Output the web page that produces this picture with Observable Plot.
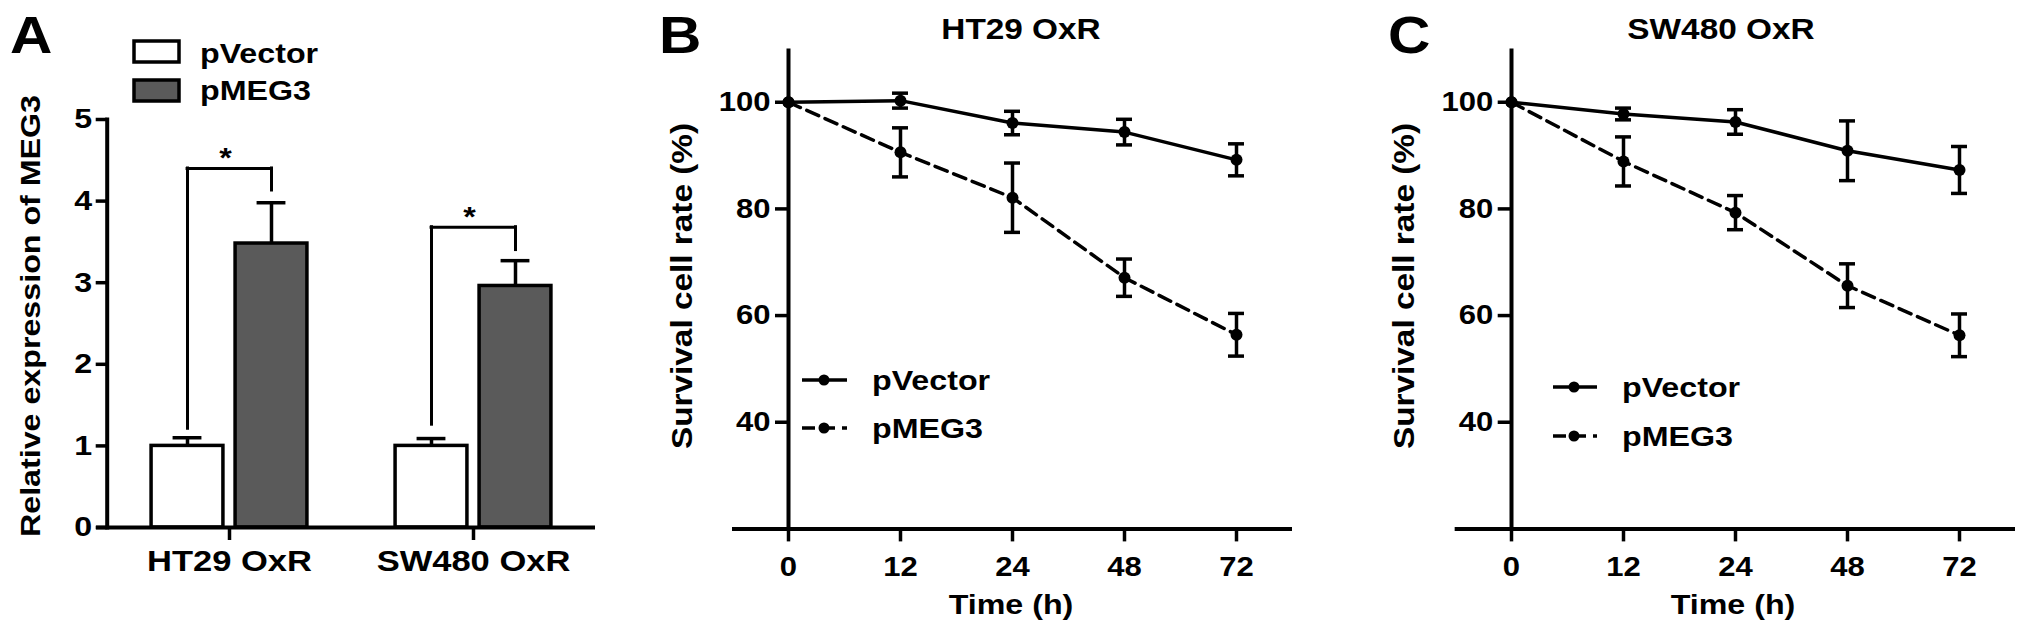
<!DOCTYPE html>
<html><head><meta charset="utf-8">
<script src="https://cdn.jsdelivr.net/npm/d3@7"></script>
<script src="https://cdn.jsdelivr.net/npm/@observablehq/plot@0.6"></script>
<style>
html,body{margin:0;padding:0;background:#fff;}
#fig{position:relative;width:2031px;height:637px;overflow:hidden;}
.panel{position:absolute;top:0;}
.panel svg{max-width:none !important;}
#overlay{position:absolute;left:0;top:0;}
</style></head><body><div id="fig"></div>
<script>
const FONT = "'Liberation Sans', Arial, Helvetica, sans-serif";
const STRETCH = 1.15;

// ---- Panel A data ----
const cellLines = ["HT29 OxR", "SW480 OxR"];
const groups = ["pVector", "pMEG3"];
const groupFill = ["#ffffff", "#5a5a5a"];
const vectorExpr = [1.00, 1.00];
const vectorExprErr = [0.10, 0.09];
const meg3Expr = [3.48, 2.96];
const meg3ExprErr = [0.50, 0.31];
const bracketTop = [4.40, 3.68];
const bracketLeftEnd = [1.21, 1.26];
const bracketRightEnd = [4.13, 3.40];
const bracketMark = ["*", "*"];
const exprTicks = [0, 1, 2, 3, 4, 5];

// ---- Panels B / C data ----
const times = [0, 12, 24, 48, 72];
const ht29Vector = [100, 100.3, 96.1, 94.4, 89.2];
const ht29VectorErr = [0, 1.4, 2.2, 2.4, 3.0];
const ht29Meg3 = [100, 90.6, 82.1, 67.1, 56.4];
const ht29Meg3Err = [0, 4.6, 6.5, 3.5, 4.0];
const sw480Vector = [100, 97.8, 96.3, 90.9, 87.3];
const sw480VectorErr = [0, 1.1, 2.3, 5.6, 4.4];
const sw480Meg3 = [100, 88.9, 79.3, 65.6, 56.3];
const sw480Meg3Err = [0, 4.6, 3.2, 4.1, 4.0];
const survivalTicks = [40, 60, 80, 100];

const baseStyle = {fontFamily: FONT, fontSize: "28px", fontWeight: "bold", color: "#000", background: "transparent", overflow: "visible"};

// ---- Panel A ----
const A = {width: 620, ml: 106.7, mr: 25, mt: 119, mb: 110};
const band = (A.width - A.ml - A.mr) / cellLines.length;
const barW = 72, barGap = 12, off = barGap / 2 + barW / 2;
const barRows = cellLines.flatMap((c, i) => [
  {cell: c, group: groups[0], value: vectorExpr[i], err: vectorExprErr[i]},
  {cell: c, group: groups[1], value: meg3Expr[i], err: meg3ExprErr[i]}
]);
const brackets = cellLines.map((c, i) => ({cell: c, top: bracketTop[i], left: bracketLeftEnd[i], right: bracketRightEnd[i], mark: bracketMark[i]}));
const vRowsA = barRows.filter(d => d.group === groups[0]);
const mRowsA = barRows.filter(d => d.group === groups[1]);
const capHalfA = 14.5;

const plotA = Plot.plot({
  width: A.width, height: 637, marginLeft: A.ml, marginRight: A.mr, marginTop: A.mt, marginBottom: A.mb,
  style: baseStyle,
  x: {type: "band", domain: cellLines, padding: 0, label: null},
  y: {domain: [0, 5], label: null},
  marks: [
    Plot.barY(vRowsA, {x: "cell", y: "value", fill: groupFill[0], stroke: "#000", strokeWidth: 3.5,
      insetLeft: band / 2 - barGap / 2 - barW, insetRight: band / 2 + barGap / 2}),
    Plot.barY(mRowsA, {x: "cell", y: "value", fill: groupFill[1], stroke: "#000", strokeWidth: 3.5,
      insetLeft: band / 2 + barGap / 2, insetRight: band / 2 - barGap / 2 - barW}),
    Plot.ruleX(vRowsA, {x: "cell", y1: "value", y2: d => d.value + d.err, dx: -off, strokeWidth: 3.5}),
    Plot.ruleX(mRowsA, {x: "cell", y1: "value", y2: d => d.value + d.err, dx: off, strokeWidth: 3.5}),
    Plot.tickY(vRowsA, {x: "cell", y: d => d.value + d.err, dx: -off, insetLeft: band / 2 - capHalfA, insetRight: band / 2 - capHalfA, strokeWidth: 3.5}),
    Plot.tickY(mRowsA, {x: "cell", y: d => d.value + d.err, dx: off, insetLeft: band / 2 - capHalfA, insetRight: band / 2 - capHalfA, strokeWidth: 3.5}),
    Plot.tickY(brackets, {x: "cell", y: "top", insetLeft: band / 2 - off, insetRight: band / 2 - off, strokeWidth: 3, strokeLinecap: "square"}),
    Plot.ruleX(brackets, {x: "cell", y1: "left", y2: "top", dx: -off, strokeWidth: 3, strokeLinecap: "square"}),
    Plot.ruleX(brackets, {x: "cell", y1: "right", y2: "top", dx: off, strokeWidth: 3, strokeLinecap: "square"}),
    Plot.text(brackets, {x: "cell", y: "top", text: "mark", dy: -10, dx: -4, fontSize: 28, fontWeight: "bold"}),
    Plot.ruleY([0], {insetLeft: -10.7, strokeWidth: 4}),
    Plot.frame({anchor: "left", strokeWidth: 4}),
    Plot.axisY({ticks: exprTicks, tickFormat: "d", tickSize: 11, tickPadding: 4, strokeWidth: 3.5, label: null}),
    Plot.axisX({tickSize: 13, tickPadding: 9, strokeWidth: 3.5, label: null})
  ]
});

// ---- Panels B & C ----
function survivalPlot({vector, vectorErr, meg3, meg3Err, width, ml, mr}) {
  const rows = (vals, errs, g) => times.map((t, i) => ({t, v: vals[i], e: errs[i], g}));
  const vRows = rows(vector, vectorErr, groups[0]);
  const mRows = rows(meg3, meg3Err, groups[1]);
  const errRows = [...vRows, ...mRows].filter(d => d.e > 0);
  const step = (width - ml - mr) / (times.length - 1 + 0.5);
  return Plot.plot({
    width, height: 637, marginLeft: ml, marginRight: mr, marginTop: 48.4, marginBottom: 108.6,
    style: baseStyle,
    x: {type: "point", domain: times, padding: 0.25, align: 0, label: null},
    y: {domain: [20, 110], label: null},
    marks: [
      Plot.ruleY([20], {insetLeft: -step / 2, strokeWidth: 4}),
      Plot.ruleX([times[0]], {strokeWidth: 4}),
      Plot.axisY({ticks: survivalTicks, tickSize: 13, tickPadding: 5, strokeWidth: 3.5, label: null}),
      Plot.axisX({tickSize: 13, tickPadding: 14.6, strokeWidth: 3.5, label: null}),
      Plot.line(vRows, {x: "t", y: "v", strokeWidth: 3.5}),
      Plot.line(mRows, {x: "t", y: "v", strokeWidth: 3.5, strokeDasharray: "13,7"}),
      Plot.ruleX(errRows, {x: "t", y1: d => d.v - d.e, y2: d => d.v + d.e, strokeWidth: 3.5}),
      Plot.ruleY(errRows, {x1: "t", x2: "t", y: d => d.v + d.e, insetLeft: -8, insetRight: -8, strokeWidth: 3.5}),
      Plot.ruleY(errRows, {x1: "t", x2: "t", y: d => d.v - d.e, insetLeft: -8, insetRight: -8, strokeWidth: 3.5}),
      Plot.dot([...vRows, ...mRows], {x: "t", y: "v", r: 6, fill: "#000"})
    ]
  });
}
const plotB = survivalPlot({vector: ht29Vector, vectorErr: ht29VectorErr, meg3: ht29Meg3, meg3Err: ht29Meg3Err, width: 690, ml: 148, mr: 38});
const plotC = survivalPlot({vector: sw480Vector, vectorErr: sw480VectorErr, meg3: sw480Meg3, meg3Err: sw480Meg3Err, width: 651, ml: 130.7, mr: 16});

// explicit text sizes inside the plots
function sizeTexts(svg, pick) {
  svg.querySelectorAll("text").forEach(t => {
    const s = pick(t.textContent);
    t.style.fontSize = s + "px"; t.style.fontFamily = FONT; t.style.fontWeight = "bold";
  });
}
sizeTexts(plotA, s => cellLines.includes(s) ? 30 : 28);
sizeTexts(plotB, () => 27);
sizeTexts(plotC, () => 27);

const fig = document.getElementById("fig");
[[plotA, 0, 620], [plotB, 640, 690], [plotC, 1380, 651]].forEach(([p, left, w]) => {
  const d = document.createElement("div");
  d.className = "panel"; d.style.left = left + "px"; d.style.width = w + "px";
  d.appendChild(p); fig.appendChild(d);
});

// ---- Overlay: panel letters, titles, axis titles, legends ----
const ov = d3.select(fig).append("svg").attr("id", "overlay").attr("width", 2031).attr("height", 637)
  .style("font-family", FONT).style("font-weight", "bold");
function txt(s, x, y, size, anchor = "start", rot = false) {
  const t = ov.append("text").text(s).attr("font-size", size).attr("text-anchor", anchor).attr("fill", "#000");
  if (rot) t.attr("transform", `translate(${x},${y}) rotate(-90)`); else t.attr("x", x).attr("y", y);
  return t;
}
txt("A", 10, 53, 51); txt("B", 659, 53, 51); txt("C", 1388, 53, 51);
txt(cellLines[0], 1021, 39, 29, "middle");
txt(cellLines[1], 1721, 39, 29, "middle");
txt("Relative expression of MEG3", 40, 316, 28, "middle", true);
txt("Survival cell rate (%)", 692, 286, 29, "middle", true);
txt("Survival cell rate (%)", 1414, 286, 29, "middle", true);
txt("Time (h)", 1011, 614, 28, "middle");
txt("Time (h)", 1733, 614, 28, "middle");
// Legend A
ov.append("rect").attr("x", 134).attr("y", 41).attr("width", 45).attr("height", 21).attr("fill", groupFill[0]).attr("stroke", "#000").attr("stroke-width", 3.5);
ov.append("rect").attr("x", 134).attr("y", 80).attr("width", 45).attr("height", 21).attr("fill", groupFill[1]).attr("stroke", "#000").attr("stroke-width", 3.5);
txt(groups[0], 200, 63, 28); txt(groups[1], 200, 100, 28);
// Legends B, C
function lineLegend(x0, x1, xd, xt, y0, y1) {
  ov.append("line").attr("x1", x0).attr("x2", x1).attr("y1", y0).attr("y2", y0).attr("stroke", "#000").attr("stroke-width", 3.5);
  ov.append("circle").attr("cx", xd).attr("cy", y0).attr("r", 5.5);
  ov.append("line").attr("x1", x0).attr("x2", x1).attr("y1", y1).attr("y2", y1).attr("stroke", "#000").attr("stroke-width", 3.5).attr("stroke-dasharray", "13,7");
  ov.append("circle").attr("cx", xd).attr("cy", y1).attr("r", 5.5);
  txt(groups[0], xt, y0 + 10, 28); txt(groups[1], xt, y1 + 10, 28);
}
lineLegend(802, 847, 824, 872, 380, 428);
lineLegend(1553, 1597, 1574, 1622, 387, 436);

// widen glyphs along the baseline to match the reference lettering
fig.querySelectorAll("text").forEach(t => {
  const len = t.getComputedTextLength();
  if (len > 0) { t.setAttribute("textLength", (len * STRETCH).toFixed(2)); t.setAttribute("lengthAdjust", "spacingAndGlyphs"); }
});
</script></body></html>
